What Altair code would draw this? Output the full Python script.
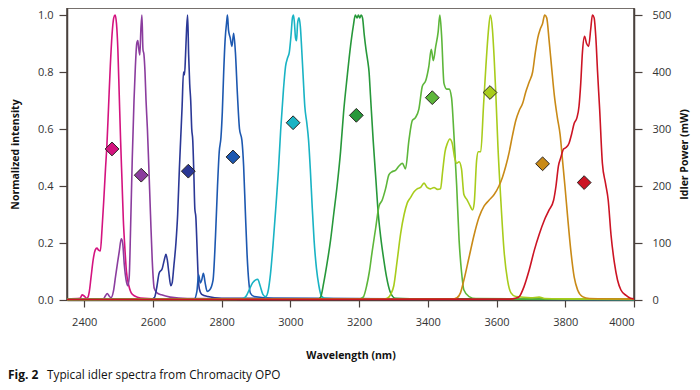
import altair as alt
import pandas as pd

# ---------------- data ----------------
series_names = ["s1", "s2", "s3", "s4", "s5", "s6", "s7", "s8", "s9", "s10"]
series_colors = ["#d4137f", "#8b3d9e", "#2b3896", "#1d58b0", "#19b3c4",
                 "#27983a", "#5db63a", "#a8cc1c", "#c98a17", "#cc1424"]

wl_1 = [2350, 2388, 2394, 2400, 2407, 2411, 2415, 2420, 2426, 2432, 2437, 2442, 2447, 2452, 2457,
        2462, 2466, 2471, 2476, 2481, 2486, 2490, 2494, 2498, 2502, 2506, 2510, 2514, 2518, 2523,
        2530, 2540, 2555, 2575, 2620, 4000]
in_1 = [0.004, 0.006, 0.018, 0.014, 0.006, 0.01, 0.03, 0.08, 0.14, 0.175, 0.182, 0.175, 0.172, 0.25, 0.35,
        0.46, 0.54, 0.68, 0.82, 0.93, 0.99, 1.0, 0.97, 0.88, 0.72, 0.56, 0.42, 0.28, 0.19, 0.1,
        0.05, 0.02, 0.01, 0.006, 0.004, 0.004]

wl_2 = [2350, 2455, 2462, 2467, 2472, 2478, 2485, 2491, 2497, 2502, 2508, 2512, 2517, 2522, 2527,
        2531, 2535, 2540, 2545, 2549, 2553, 2556, 2559, 2562, 2565, 2568, 2571, 2574, 2577, 2580,
        2584, 2588, 2593, 2598, 2604, 2612, 2625, 2650, 2700, 4000]
in_2 = [0.002, 0.003, 0.015, 0.023, 0.015, 0.008, 0.03, 0.08, 0.13, 0.17, 0.215, 0.2, 0.12, 0.07, 0.05,
        0.08, 0.25, 0.5, 0.7, 0.82, 0.9, 0.91, 0.88, 0.86, 0.95, 1.0, 0.88, 0.86, 0.8, 0.7,
        0.6, 0.47, 0.3, 0.14, 0.04, 0.025, 0.018, 0.01, 0.005, 0.002]

wl_3 = [2350, 2595, 2605, 2612, 2618, 2627, 2633, 2638, 2642, 2646, 2652, 2656, 2661, 2667, 2672,
        2677, 2681, 2685, 2689, 2692, 2695, 2698, 2701, 2704, 2707, 2710, 2713, 2716, 2719, 2722,
        2725, 2728, 2731, 2735, 2742, 2760, 2800, 4000]
in_3 = [0.002, 0.003, 0.01, 0.05, 0.094, 0.11, 0.14, 0.16, 0.14, 0.1, 0.05, 0.06, 0.12, 0.2, 0.3,
        0.46, 0.57, 0.68, 0.8, 0.79, 0.86, 0.95, 1.0, 0.86, 0.76, 0.7, 0.6, 0.56, 0.45, 0.32,
        0.29, 0.2, 0.1, 0.04, 0.02, 0.012, 0.006, 0.002]

wl_4 = [2350, 2720, 2728, 2733, 2738, 2742, 2747, 2752, 2758, 2765, 2775, 2782, 2788, 2793, 2798,
        2802, 2806, 2810, 2815, 2817, 2820, 2825, 2830, 2835, 2840, 2846, 2852, 2859, 2864, 2869,
        2874, 2879, 2884, 2895, 2950, 4000]
in_4 = [0.002, 0.003, 0.03, 0.088, 0.06, 0.07, 0.094, 0.06, 0.03, 0.035, 0.07, 0.22, 0.4, 0.52, 0.57,
        0.66, 0.8, 0.91, 0.98, 1.0, 0.947, 0.92, 0.89, 0.936, 0.87, 0.72, 0.6, 0.56, 0.47, 0.31,
        0.16, 0.065, 0.023, 0.012, 0.006, 0.002]

wl_5 = [2350, 2860, 2872, 2880, 2890, 2898, 2905, 2912, 2920, 2928, 2935, 2942, 2950, 2958, 2965,
        2972, 2980, 2986, 2992, 2997, 3002, 3006, 3009, 3012, 3015, 3018, 3021, 3025, 3029, 3033,
        3037, 3042, 3048, 3053, 3058, 3063, 3069, 3076, 3083, 3090, 3100, 3150, 4000]
in_5 = [0.002, 0.004, 0.015, 0.035, 0.06, 0.07, 0.073, 0.05, 0.02, 0.012, 0.03, 0.09, 0.2, 0.33, 0.45,
        0.6, 0.74, 0.82, 0.85, 0.87, 0.93, 0.99, 1.0, 0.97, 0.92, 0.91, 0.97, 0.99, 0.96, 0.88,
        0.79, 0.68, 0.62, 0.56, 0.46, 0.34, 0.21, 0.11, 0.05, 0.015, 0.006, 0.004, 0.002]

wl_6 = [2350, 3080, 3088, 3097, 3107, 3117, 3126, 3136, 3146, 3155, 3165, 3175, 3183, 3189, 3194,
        3198, 3202, 3206, 3210, 3215, 3220, 3225, 3229, 3233, 3241, 3249, 3256, 3263, 3272, 3280,
        3290, 3306, 3400, 4000]
in_6 = [0.002, 0.003, 0.01, 0.06, 0.13, 0.21, 0.3, 0.4, 0.52, 0.66, 0.78, 0.89, 0.96, 1.0, 0.99,
        1.0, 0.99, 1.0, 0.99, 0.93, 0.88, 0.84, 0.8, 0.72, 0.56, 0.42, 0.3, 0.22, 0.14, 0.08,
        0.03, 0.006, 0.004, 0.002]

wl_7 = [2350, 3200, 3212, 3222, 3230, 3238, 3248, 3258, 3267, 3277, 3287, 3296, 3306, 3316, 3326,
        3335, 3345, 3355, 3364, 3374, 3384, 3394, 3403, 3410, 3416, 3423, 3430, 3435, 3440, 3447,
        3455, 3462, 3469, 3476, 3484, 3491, 3498, 3505, 3520, 3540, 4000]
in_7 = [0.002, 0.003, 0.01, 0.05, 0.1, 0.17, 0.25, 0.33, 0.35, 0.39, 0.44, 0.45, 0.455, 0.47, 0.48,
        0.46, 0.56, 0.63, 0.64, 0.67, 0.75, 0.77, 0.82, 0.88, 0.84, 0.89, 0.94, 1.0, 0.93, 0.76,
        0.74, 0.74, 0.71, 0.58, 0.4, 0.21, 0.1, 0.035, 0.012, 0.005, 0.002]

wl_8 = [2350, 3270, 3282, 3292, 3301, 3311, 3321, 3331, 3340, 3350, 3360, 3369, 3379, 3389, 3398,
        3408, 3418, 3428, 3437, 3443, 3450, 3457, 3464, 3471, 3478, 3484, 3491, 3498, 3505, 3515,
        3523, 3530, 3535, 3542, 3547, 3554, 3562, 3569, 3576, 3582, 3588, 3593, 3598, 3604, 3612,
        3622, 3632, 3642, 3656, 3700, 3724, 3740, 3800, 4000]
in_8 = [0.002, 0.003, 0.006, 0.02, 0.05, 0.14, 0.234, 0.3, 0.34, 0.36, 0.38, 0.39, 0.395, 0.41, 0.395,
        0.39, 0.395, 0.388, 0.39, 0.45, 0.52, 0.55, 0.565, 0.55, 0.5, 0.48, 0.485, 0.46, 0.37, 0.35,
        0.33, 0.316, 0.34, 0.49, 0.52, 0.52, 0.68, 0.82, 0.94, 1.0, 0.95, 0.85, 0.72, 0.54, 0.36,
        0.17, 0.07, 0.025, 0.012, 0.008, 0.01, 0.005, 0.004, 0.003]

wl_9 = [2350, 3470, 3485, 3495, 3505, 3520, 3535, 3549, 3564, 3578, 3593, 3607, 3617, 3627, 3637,
        3646, 3656, 3666, 3676, 3685, 3695, 3705, 3713, 3720, 3727, 3734, 3740, 3746, 3753, 3760,
        3768, 3777, 3785, 3792, 3799, 3807, 3816, 3826, 3836, 3850, 3870, 4000]
in_9 = [0.002, 0.003, 0.008, 0.025, 0.07, 0.15, 0.23, 0.29, 0.33, 0.35, 0.37, 0.4, 0.43, 0.47, 0.52,
        0.575, 0.63, 0.665, 0.69, 0.73, 0.765, 0.8, 0.87, 0.92, 0.95, 0.97, 1.0, 0.99, 0.91, 0.82,
        0.72, 0.64, 0.58, 0.49, 0.4, 0.29, 0.175, 0.08, 0.035, 0.012, 0.005, 0.003]

wl_10 = [2350, 3640, 3655, 3666, 3680, 3695, 3710, 3724, 3739, 3753, 3766, 3773, 3780, 3787, 3795,
         3802, 3811, 3818, 3826, 3834, 3840, 3845, 3850, 3856, 3862, 3868, 3874, 3879, 3884, 3889,
         3894, 3900, 3908, 3917, 3925, 3933, 3943, 3952, 3962, 3977, 3990, 4000]
in_10 = [0.002, 0.003, 0.006, 0.012, 0.047, 0.105, 0.175, 0.23, 0.28, 0.316, 0.35, 0.4, 0.47, 0.5, 0.53,
         0.535, 0.55, 0.58, 0.62, 0.64, 0.68, 0.76, 0.87, 0.925, 0.9, 0.89, 0.95, 1.0, 0.99, 0.92,
         0.8, 0.67, 0.48, 0.41, 0.35, 0.23, 0.13, 0.07, 0.035, 0.016, 0.006, 0.004]

marker_wl = [2481, 2566, 2703, 2833, 3008, 3192, 3413, 3581, 3734, 3855]
marker_mw = [265, 219, 226, 251, 311, 324, 355, 364, 239, 206]

x_ticks = list(range(2400, 4001, 100))
y_ticks = [0.0, 0.2, 0.4, 0.6, 0.8, 1.0]
p_ticks = [0, 100, 200, 300, 400, 500]

caption_bold = "Fig. 2"
caption_text = "Typical idler spectra from Chromacity OPO"

# ---------------- tables ----------------
all_wl = [wl_1, wl_2, wl_3, wl_4, wl_5, wl_6, wl_7, wl_8, wl_9, wl_10]
all_in = [in_1, in_2, in_3, in_4, in_5, in_6, in_7, in_8, in_9, in_10]
rows = []
for name, wls, ins in zip(series_names, all_wl, all_in):
    for w, v in zip(wls, ins):
        rows.append({"series": name, "wl": w, "inten": v})
spectra = pd.DataFrame(rows)
markers = pd.DataFrame({"series": series_names, "wl": marker_wl, "mw": marker_mw})

FONT = "Open Sans"
FRAME = "#4a413d"
W, H = 567, 292

xscale = alt.Scale(domain=[2350, 4000], nice=False, zero=False)
color_scale = alt.Scale(domain=series_names, range=series_colors)

x_axis = alt.Axis(values=x_ticks, format="d",
                  labelExpr="datum.value % 200 == 0 ? datum.label : ''",
                  title="Wavelength (nm)", tickSize=7, labelPadding=9, titlePadding=23,
                  grid=False)

lines = alt.Chart(spectra).mark_line(strokeWidth=1.6, interpolate="monotone").encode(
    x=alt.X("wl:Q", scale=xscale, axis=x_axis),
    y=alt.Y("inten:Q", scale=alt.Scale(domain=[0, 1.0246], nice=False),
            axis=alt.Axis(values=y_ticks, format=".1f", title="Normalized intensity",
                          tickSize=8, labelPadding=6, grid=False,
                          titleAngle=270, titleX=-52, titleY=H / 2,
                          titleAlign="center", titleBaseline="middle")),
    color=alt.Color("series:N", scale=color_scale, legend=None),
    detail="series:N",
)

points = alt.Chart(markers).mark_point(shape="diamond", filled=True, size=190,
                                       stroke="#2a2522", strokeWidth=1, opacity=1).encode(
    x=alt.X("wl:Q", scale=xscale),
    y=alt.Y("mw:Q", scale=alt.Scale(domain=[0, 512.3], nice=False),
            axis=alt.Axis(values=p_ticks, format="d", title="Idler Power (mW)", orient="right",
                          tickSize=8, labelPadding=10, grid=False,
                          titleAngle=270, titleX=50, titleY=H / 2,
                          titleAlign="center", titleBaseline="middle")),
    fill=alt.Fill("series:N", scale=color_scale, legend=None),
)

cap1 = alt.Chart(pd.DataFrame({"t": [caption_bold]})).mark_text(
    align="left", baseline="alphabetic", font=FONT, fontSize=12, fontWeight="bold",
    color="#111111").encode(text="t:N", x=alt.value(-59), y=alt.value(371))
cap2 = alt.Chart(pd.DataFrame({"t": [caption_text]})).mark_text(
    align="left", baseline="alphabetic", font=FONT, fontSize=11.8, color="#111111").encode(
    text="t:N", x=alt.value(-20), y=alt.value(371))

left = alt.layer(lines, cap1, cap2)
chart = alt.layer(left, points).resolve_scale(y="independent", fill="independent").properties(
    width=W, height=H,
    autosize=alt.AutoSizeParams(type="none"),
    padding={"left": 59, "top": 0, "right": 58, "bottom": 82},
).configure_view(stroke=FRAME, strokeWidth=1.5).configure_axis(
    domainColor=FRAME, domainWidth=1.5, tickColor=FRAME, tickWidth=1.2,
    labelFont=FONT, labelFontSize=11, labelColor="#333333",
    titleFont=FONT, titleFontSize=10.5, titleFontWeight="bold", titleColor="#111111",
)

chart.save("out.html", embed_options={"renderer": "svg", "actions": False})
